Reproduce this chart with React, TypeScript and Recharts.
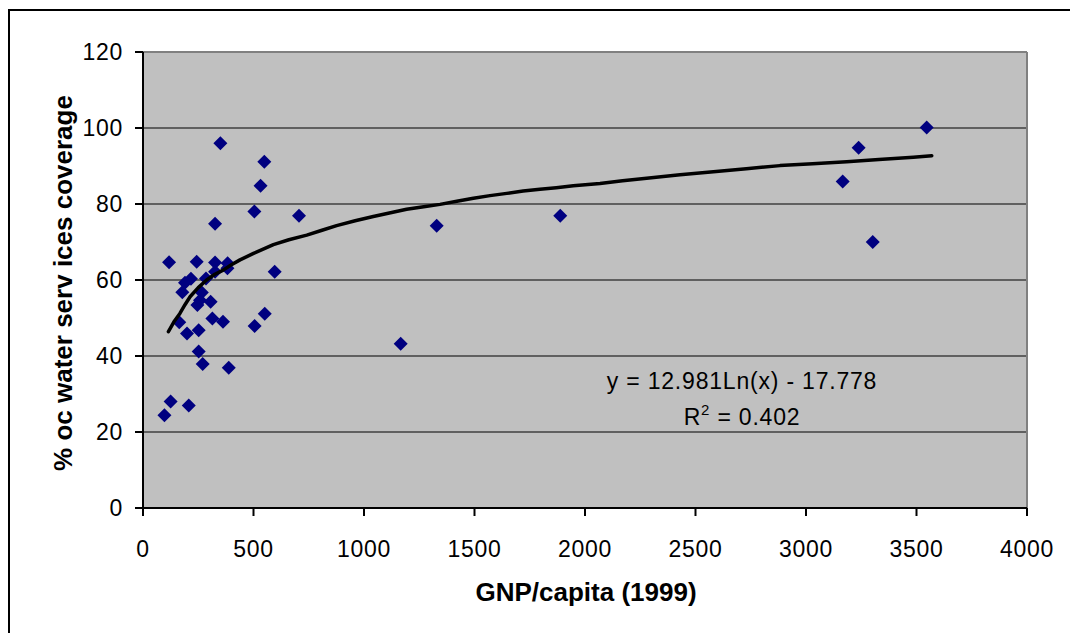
import React from "react";
import {
  ScatterChart,
  Scatter,
  XAxis,
  YAxis,
  CartesianGrid,
  ReferenceLine,
} from "recharts";

// GNP per capita (1999) of each country
const gnpPerCapita = [
  350, 549, 532, 504, 706, 326, 118, 243, 326, 383, 382, 326, 596, 217, 190,
  285, 178, 266, 246, 306, 258, 164, 199, 252, 314, 362, 505, 551, 252, 270,
  388, 125, 207, 97, 1166, 1329, 1888, 3166, 3238, 3302, 3546,
];
// % of water services coverage of each country
const waterCoverage = [
  96, 91.1, 84.8, 78, 76.9, 74.8, 64.7, 64.8, 64.6, 64.4, 63.1, 62.2, 62.2,
  60.3, 59.3, 60.4, 56.8, 56.7, 53.4, 54.3, 54.7, 48.9, 45.9, 46.8, 49.9, 49,
  47.9, 51.1, 41.2, 37.9, 36.9, 28, 27, 24.4, 43.2, 74.3, 76.9, 85.9, 94.8, 70,
  100.1,
];

// logarithmic trend line
const trendX = [
  115, 140, 167, 190, 213, 250, 288, 325, 363, 400, 439, 500, 590, 660, 741,
  810, 876, 960, 1042, 1120, 1193, 1270, 1344, 1420, 1495, 1570, 1646, 1720,
  1796, 1870, 1947, 2068, 2170, 2279, 2430, 2581, 2730, 2882, 3030, 3184, 3330,
  3486, 3569,
];
const trendY = [
  46.4, 49, 51.2, 53.5, 55.6, 58, 60, 61.5, 62.6, 64, 65.3, 67, 69.3, 70.6,
  71.8, 73.1, 74.3, 75.6, 76.7, 77.7, 78.6, 79.3, 79.9, 80.7, 81.5, 82.2, 82.8,
  83.4, 83.9, 84.3, 84.8, 85.4, 86.1, 86.8, 87.7, 88.5, 89.3, 90.1, 90.6, 91.1,
  91.7, 92.3, 92.7,
];

const xTicks = [0, 500, 1000, 1500, 2000, 2500, 3000, 3500, 4000];
const yTicks = [0, 20, 40, 60, 80, 100, 120];

const xTitle = "GNP/capita (1999)";
const yTitle = "% oc water serv ices coverage";
const equation = "y = 12.981Ln(x) - 17.778";
const rSquared = "0.402";

const points = gnpPerCapita.map((x, i) => ({ x, y: waterCoverage[i] }));
const trend = trendX.map((x, i) => ({ x, y: trendY[i] }));

const FONT = "'Liberation Sans', Arial, Helvetica, sans-serif";

const Diamond = (props: any) => {
  const { cx, cy } = props;
  const r = 7;
  return (
    <path
      d={`M${cx},${cy - r}L${cx + r},${cy}L${cx},${cy + r}L${cx - r},${cy}Z`}
      fill="#000080"
    />
  );
};

const Empty = () => <g />;

export default function App() {
  const tickStyle = {
    fill: "#000",
    fontSize: 23,
    fontFamily: FONT,
    letterSpacing: 0.7,
  };
  return (
    <div
      style={{
        position: "fixed",
        left: 0,
        top: 0,
        width: 1070,
        height: 633,
        overflow: "hidden",
        background: "#fff",
      }}
    >
      <div
        style={{
          position: "absolute",
          left: 8,
          top: 9,
          width: 1070,
          height: 633,
          borderLeft: "2px solid #000",
          borderTop: "2px solid #000",
        }}
      />
      <div style={{ position: "absolute", left: 0, top: 0 }}>
        <ScatterChart
          width={1070}
          height={633}
          margin={{ top: 52, right: 43, bottom: 65, left: 83 }}
        >
          <CartesianGrid
            horizontal={true}
            vertical={false}
            stroke="#000"
            strokeWidth={1}
            fill="#C0C0C0"
            fillOpacity={1}
          />
          <XAxis
            type="number"
            dataKey="x"
            domain={[0, 4000]}
            ticks={xTicks}
            interval={0}
            height={60}
            axisLine={{ stroke: "#000", strokeWidth: 2 }}
            tickLine={{ stroke: "#000", strokeWidth: 2 }}
            tickSize={8}
            tickMargin={25}
            tick={tickStyle}
            allowDataOverflow
          />
          <YAxis
            type="number"
            dataKey="y"
            domain={[0, 120]}
            ticks={yTicks}
            interval={0}
            width={60}
            axisLine={{ stroke: "#000", strokeWidth: 2 }}
            tickLine={{ stroke: "#000", strokeWidth: 2 }}
            tickSize={8}
            tickMargin={12}
            tick={tickStyle}
            allowDataOverflow
          />
          <ReferenceLine y={120} stroke="#808080" strokeWidth={2} />
          <ReferenceLine x={4000} stroke="#808080" strokeWidth={2} />
          <Scatter
            data={points}
            shape={<Diamond />}
            fill="#000080"
            isAnimationActive={false}
          />
          <Scatter
            data={trend}
            shape={<Empty />}
            fill="#000"
            line={{
              stroke: "#000",
              strokeWidth: 3.5,
              strokeLinejoin: "round",
              strokeLinecap: "round",
            }}
            lineType="joint"
            isAnimationActive={false}
          />
        </ScatterChart>
      </div>
      <svg
        width={1070}
        height={633}
        style={{ position: "absolute", left: 0, top: 0, pointerEvents: "none" }}
      >
        <text
          x={586}
          y={601}
          textAnchor="middle"
          fontFamily={FONT}
          fontWeight="bold"
          fontSize={26}
          fill="#000"
        >
          {xTitle}
        </text>
        <text
          x={72}
          y={283}
          textAnchor="middle"
          fontFamily={FONT}
          fontWeight="bold"
          fontSize={26}
          fill="#000"
          transform="rotate(-90 72 283)"
        >
          {yTitle}
        </text>
        <text
          x={742}
          y={389}
          textAnchor="middle"
          fontFamily={FONT}
          fontSize={23}
          letterSpacing={0.8}
          fill="#000"
        >
          {equation}
        </text>
        <text
          x={742}
          y={425}
          textAnchor="middle"
          fontFamily={FONT}
          fontSize={23}
          letterSpacing={0.8}
          fill="#000"
        >
          R
          <tspan fontSize={15} dy={-10}>
            2
          </tspan>
          <tspan dy={10}>{" = " + rSquared}</tspan>
        </text>
      </svg>
    </div>
  );
}
